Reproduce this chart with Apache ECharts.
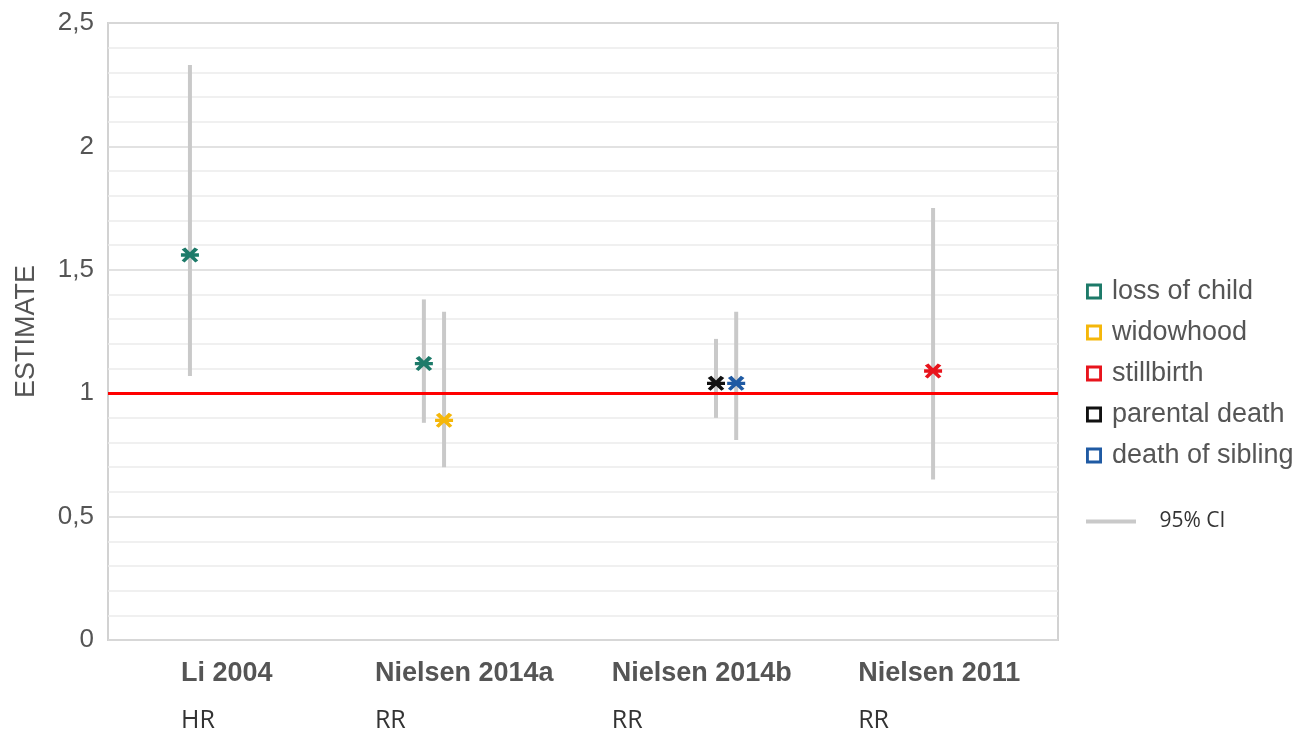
<!DOCTYPE html>
<html>
<head>
<meta charset="utf-8">
<title>ESTIMATE</title>
<script src="https://cdn.jsdelivr.net/npm/echarts@6/dist/echarts.min.js"></script>
<style>
  html, body { margin: 0; padding: 0; background: #fff; }
  #chart { width: 1308px; height: 729px; }
</style>
</head>
<body>
<div id="chart"></div>
<script>
// Studies along the x axis and the effect measure reported by each
const studies = ['Li 2004', 'Nielsen 2014a', 'Nielsen 2014b', 'Nielsen 2011'];
const measures = ['HR', 'RR', 'RR', 'RR'];

// Exposure groups, in legend order, with their colours
const groups = ['loss of child', 'widowhood', 'stillbirth', 'parental death', 'death of sibling'];
const groupColors = ['#1d7a69', '#f5b70a', '#e8141c', '#111111', '#1f5aa3'];

// One entry per estimate: group, position along the study axis, point estimate and 95% CI
const estGroup = ['loss of child', 'loss of child', 'widowhood', 'parental death', 'death of sibling', 'stillbirth'];
const estX     = [0.345, 1.33, 1.415, 2.56, 2.645, 3.474];
const estimate = [1.56, 1.12, 0.89, 1.04, 1.04, 1.09];
const ciLow    = [1.07, 0.88, 0.70, 0.90, 0.81, 0.65];
const ciHigh   = [2.33, 1.38, 1.33, 1.22, 1.33, 1.75];

// Reference line at no effect
const nullValue = 1;

// Y axis ticks
const yMin = 0, yMax = 2.5, yStep = 0.5;

const FONT = 'Liberation Sans, Arial, Helvetica, sans-serif';

// Asterisk-like marker: horizontal bar plus two diagonals
const starPath = 'path://M24,0L96,86L80,100L4,14Z' +
  'M76,0L96,14L20,100L4,86Z' +
  'M0,39L100,39L100,61L0,61Z';
// Hollow square legend icon
const squarePath = 'path://M0,0H10V10H0Z M1.8,1.8V8.2H8.2V1.8Z';

const chart = echarts.init(document.getElementById('chart'), null, { renderer: 'canvas' });

const scatterSeries = groups.map((g, gi) => ({
  name: g,
  type: 'scatter',
  xAxisIndex: 1,
  z: 5,
  symbol: starPath,
  symbolSize: [18, 15],
  itemStyle: { color: groupColors[gi], opacity: 1 },
  data: estX.map((x, i) => estGroup[i] === g ? [x, estimate[i]] : null).filter(d => d)
}));

const option = {
  backgroundColor: '#fff',
  animation: false,
  grid: {
    left: 108, right: 250, top: 23, bottom: 89,
    outerBoundsMode: 'none',
    containLabel: false,
    show: true, borderColor: '#d2d2d2', borderWidth: 2, backgroundColor: '#fff'
  },
  legend: [
    {
      orient: 'vertical', left: 1081, top: 273,
      itemWidth: 16, itemHeight: 16, itemGap: 14,
      icon: squarePath,
      data: groups,
      textStyle: { fontFamily: FONT, fontSize: 27, color: '#555', padding: [0, 0, 0, 5] }
    },
    {
      orient: 'vertical', left: 1081, top: 506,
      itemWidth: 51, itemHeight: 4,
      data: [{ name: '95% CI', icon: 'path://M0,0H50V4H0Z' }],
      textStyle: { fontFamily: 'Open Sans, sans-serif', fontSize: 21, color: '#333', padding: [0, 0, 0, 18] }
    }
  ],
  xAxis: [
    {
      type: 'category',
      data: studies,
      axisLine: { show: false },
      axisTick: { show: false },
      splitLine: { show: false },
      axisLabel: {
        margin: 17,
        formatter: (v, i) => '{a|' + v + '}\n{b|' + measures[i] + '}',
        rich: {
          a: { fontFamily: FONT, fontSize: 27, fontWeight: 'bold', color: '#555', lineHeight: 34 },
          b: { fontFamily: 'Open Sans, sans-serif', fontSize: 25, color: '#333', lineHeight: 60, align: 'left' }
        }
      }
    },
    { type: 'value', min: 0, max: studies.length, show: false }
  ],
  yAxis: {
    type: 'value',
    min: yMin, max: yMax, interval: yStep,
    name: 'ESTIMATE',
    nameLocation: 'middle',
    nameGap: 68,
    nameMoveOverlap: false,
    nameTextStyle: { fontFamily: FONT, fontSize: 27, color: '#555' },
    axisLine: { show: false },
    axisTick: { show: false },
    axisLabel: {
      margin: 14, fontFamily: FONT, fontSize: 26, color: '#555',
      lineHeight: 26, padding: [10, 0, 0, 0],
      formatter: v => String(v).replace('.', ',')
    },
    splitLine: { lineStyle: { color: '#d8d8d8', width: 1.5 } },
    minorTick: { show: false, splitNumber: 5 },
    minorSplitLine: { show: true, lineStyle: { color: '#ececec', width: 1.5 } }
  },
  series: [
    {
      name: '95% CI',
      type: 'custom',
      xAxisIndex: 1,
      z: 2,
      itemStyle: { color: '#c9c9c9' },
      data: estX.map((x, i) => [x, ciLow[i], ciHigh[i]]),
      renderItem: (params, api) => {
        const p1 = api.coord([api.value(0), api.value(1)]);
        const p2 = api.coord([api.value(0), api.value(2)]);
        return {
          type: 'line',
          shape: { x1: p1[0], y1: p1[1], x2: p2[0], y2: p2[1] },
          style: { stroke: '#c9c9c9', lineWidth: 4 }
        };
      }
    },
    {
      name: 'null',
      type: 'line',
      xAxisIndex: 1,
      z: 3,
      data: [],
      markLine: {
        silent: true,
        symbol: 'none',
        label: { show: false },
        lineStyle: { color: '#ff0000', width: 3, type: 'solid' },
        data: [{ yAxis: nullValue }]
      }
    }
  ].concat(scatterSeries)
};

chart.setOption(option);
</script>
</body>
</html>
